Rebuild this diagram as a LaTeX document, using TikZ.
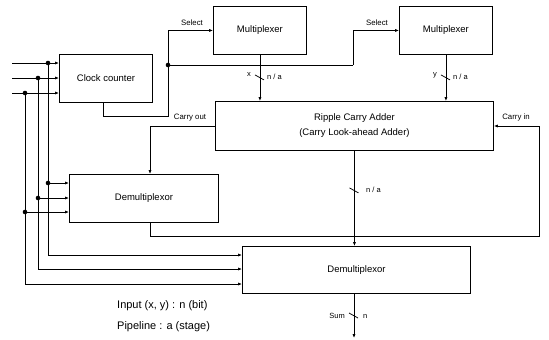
\documentclass[tikz,border=0pt]{standalone}
\usepackage{fontspec}
\setmainfont{Liberation Sans}
\usetikzlibrary{arrows.meta}
\begin{document}
\begin{tikzpicture}[x=1pt,y=-1pt,
  blk/.style={draw, line width=0.9pt, inner sep=0pt, anchor=north west, align=center,
    font=\fontsize{9.5}{15}\selectfont},
  wire/.style={line width=0.75pt},
  arr/.style={wire, -{Latex[length=4pt,width=3.2pt]}},
  lbl/.style={font=\fontsize{7.8}{9}\selectfont, inner sep=1pt},
  bus/.style={font=\fontsize{7.5}{9}\selectfont, inner sep=1pt},
  note/.style={font=\fontsize{11}{13}\selectfont, inner sep=0pt, anchor=west},
  jdot/.style={circle, fill, inner sep=0pt, minimum size=4.6pt}]
\useasboundingbox (0,0) rectangle (549,340);

% blocks
\node[blk, minimum width=93pt, minimum height=48pt] (cc) at (59,54) {Clock counter};
\node[blk, minimum width=93pt, minimum height=48pt] (m1) at (213,6) {Multiplexer};
\node[blk, minimum width=93pt, minimum height=48pt] (m2) at (399,6) {Multiplexer};
\node[blk, minimum width=278pt, minimum height=49pt] (rca) at (215,101) {Ripple Carry Adder\\(Carry Look-ahead Adder)};
\node[blk, minimum width=149pt, minimum height=48pt] (dm1) at (69,174) {Demultiplexor};
\node[blk, minimum width=228pt, minimum height=47pt] (dm2) at (242,246) {Demultiplexor};

% inputs
\coordinate (i1) at (12,63);
\coordinate (i2) at (12,78);
\coordinate (i3) at (12,93);
\node[jdot] (d1) at (48,63) {};
\node[jdot] (d2) at (38,78) {};
\node[jdot] (d3) at (25,93) {};
\draw[arr] (i1) -- (cc.west |- i1);
\draw[arr] (i2) -- (cc.west |- i2);
\draw[arr] (i3) -- (cc.west |- i3);
\node[jdot] (e1) at (48,183) {};
\node[jdot] (e2) at (38,198) {};
\node[jdot] (e3) at (25,212) {};
\draw[wire] (d1.center) -- (e1.center);
\draw[wire] (d2.center) -- (e2.center);
\draw[wire] (d3.center) -- (e3.center);
\draw[arr] (e1.center) -- (dm1.west |- e1);
\draw[arr] (e2.center) -- (dm1.west |- e2);
\draw[arr] (e3.center) -- (dm1.west |- e3);
\coordinate (f1) at (242,255);
\coordinate (f2) at (242,269);
\coordinate (f3) at (242,284);
\draw[arr] (e1.center) |- (f1);
\draw[arr] (e2.center) |- (f2);
\draw[arr] (e3.center) |- (f3);

% clock counter to select lines
\coordinate (cco) at (103,102);
\coordinate (ccb) at (103,116);
\node[jdot] (sd) at (168,65) {};
\coordinate (sr) at (353,65);
\draw[wire] (cco) -- (ccb) -| (sd.center);
\draw[arr] (sd.center) |- (m1.west);
\draw[wire] (sd.center) -- (sr);
\draw[arr] (sr) |- (m2.west);
\node[lbl, anchor=south] at (192,27) {Select};
\node[lbl, anchor=south] at (377,27) {Select};

% mux outputs
\draw[arr] (m1.south) -- (m1.south |- rca.north);
\draw[wire] (m1.south) ++(-5,20) -- ++(9,5);
\node[bus] at (249,75) {x};
\node[bus, anchor=west] at (266,77) {n / a};
\draw[arr] (m2.south) -- (m2.south |- rca.north);
\draw[wire] (m2.south) ++(-5,20) -- ++(9,5);
\node[bus] at (435,75) {y};
\node[bus, anchor=west] at (452,77) {n / a};

% carry out
\coordinate (co) at (150,126);
\draw[arr] (rca.west |- co) -- (co) -- (co |- dm1.north);
\node[lbl, anchor=south] at (190,122) {Carry out};

% demux1 output to carry in
\coordinate (q1) at (150,222);
\coordinate (q2) at (150,236);
\coordinate (q3) at (539,236);
\coordinate (q4) at (539,126);
\draw[wire] (q1) -- (q2) -- (q3) -- (q4);
\draw[arr] (q4) -- (rca.east |- q4);
\node[lbl, anchor=south] at (516,122) {Carry in};

% adder to demux2
\draw[arr] (rca.south) -- (rca.south |- dm2.north);
\draw[wire] (rca.south) ++(-5,37) -- ++(9,5);
\node[bus, anchor=west] at (365,190) {n / a};

% sum output
\coordinate (so) at (354,293);
\coordinate (se) at (354,338);
\draw[arr] (so) -- (se);
\draw[wire] (354,316) ++(-5,-3) -- ++(9,5);
\node[bus, anchor=east] at (346,316) {Sum};
\node[bus, anchor=west] at (362,316) {n};

% notes
\node[note] at (117,306) {Input (x, y) : n (bit)};
\node[note] at (117,327) {Pipeline : a (stage)};
\end{tikzpicture}
\end{document}
